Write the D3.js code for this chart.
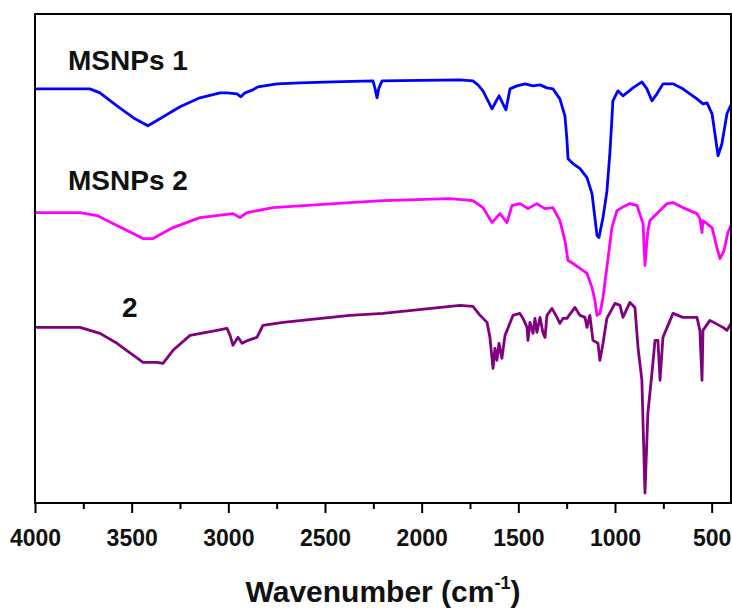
<!DOCTYPE html>
<html>
<head>
<meta charset="utf-8">
<script src="https://cdn.jsdelivr.net/npm/d3@7"></script>
<style>
body { margin: 0; background: #fff; }
text { font-family: "Liberation Sans", Arial, sans-serif; font-weight: bold; }
</style>
</head>
<body>
<script>
// FTIR spectra, wavenumber (cm-1) vs transmittance (a.u., offset)
var msnp1 = [[4000,415],[3716,415],[3664,411],[3576,398],[3483,385],[3416,378],[3354,385],[3250,397],[3147,406],[3043,411],[3007,411],[2955,410],[2935,407],[2914,411],[2873,414],[2847,417],[2748,420],[2629,421],[2459,422],[2252,423],[2242,416],[2231,406],[2221,416],[2205,423],[1802,424],[1735,423],[1709,419],[1683,413],[1636,395],[1600,408],[1564,394],[1543,415],[1507,418],[1466,420],[1424,418],[1388,419],[1352,416],[1321,415],[1285,405],[1259,388],[1249,365],[1243,345],[1217,340],[1181,335],[1145,326],[1119,310],[1104,286],[1093,268],[1083,266],[1062,286],[1042,312],[1026,352],[1016,385],[1011,403],[985,413],[959,408],[907,416],[861,422],[835,415],[809,403],[783,410],[752,420],[700,420],[649,415],[576,405],[545,400],[524,401],[498,390],[483,370],[467,348],[447,360],[421,390],[400,399]];

var msnp2 = [[4000,291],[3767,291],[3679,288],[3576,278],[3441,265],[3390,265],[3286,276],[3147,286],[2976,290],[2940,286],[2904,291],[2769,296],[2371,301],[2200,303],[1854,305],[1735,303],[1683,296],[1636,281],[1595,290],[1559,281],[1533,298],[1492,300],[1450,295],[1404,300],[1388,298],[1362,295],[1321,296],[1285,283],[1259,263],[1243,243],[1217,240],[1181,235],[1145,230],[1119,216],[1104,203],[1093,188],[1078,190],[1062,206],[1042,236],[1016,276],[990,293],[964,296],[923,300],[886,298],[855,280],[845,238],[830,273],[819,283],[783,290],[731,300],[700,301],[649,296],[576,290],[561,285],[550,271],[545,283],[498,276],[473,256],[457,245],[436,253],[416,271],[400,278]];

var cmpd2 = [[4000,176],[3767,176],[3664,170],[3576,160],[3441,141],[3369,141],[3338,140],[3286,153],[3198,168],[3059,173],[3007,175],[2991,168],[2976,158],[2950,166],[2929,160],[2898,163],[2852,166],[2821,178],[2717,181],[2371,188],[2200,190],[1802,198],[1735,197],[1698,188],[1662,181],[1647,166],[1631,135],[1621,155],[1611,143],[1600,160],[1585,145],[1569,168],[1554,175],[1528,188],[1492,190],[1476,185],[1455,176],[1450,163],[1440,181],[1424,170],[1414,185],[1404,171],[1388,186],[1373,171],[1362,166],[1352,188],[1326,195],[1300,186],[1285,180],[1269,185],[1249,185],[1207,196],[1181,188],[1155,186],[1145,176],[1130,188],[1114,163],[1088,160],[1078,143],[1062,160],[1042,185],[1000,200],[974,198],[959,186],[923,201],[897,196],[881,156],[861,123],[845,10],[830,90],[809,130],[793,163],[778,163],[767,123],[752,166],[726,178],[700,190],[649,186],[576,186],[561,173],[550,123],[545,173],[509,183],[442,176],[421,173],[400,180]];

var seriesNames = ["MSNPs 1", "MSNPs 2", "2"];
var seriesColors = ["#0000ff", "#ff00ff", "#800080"];
var majorTicks = [4000, 3500, 3000, 2500, 2000, 1500, 1000, 500];
var minorTicks = [3750, 3250, 2750, 2250, 1750, 1250, 750];

var width = 732, height = 608;
var plotLeft = 35, plotRight = 731, plotTop = 14, plotBottom = 503;

var svg = d3.select("body").append("svg")
  .attr("width", width)
  .attr("height", height);

var x = d3.scaleLinear().domain([4000, 400]).range([plotLeft, plotRight]);
var y = d3.scaleLinear().domain([0, 490]).range([plotBottom, plotTop]);

svg.append("clipPath").attr("id", "clip")
  .append("rect")
  .attr("x", plotLeft).attr("y", plotTop)
  .attr("width", plotRight - plotLeft).attr("height", plotBottom - plotTop);

var line = d3.line()
  .x(function(d) { return x(d[0]); })
  .y(function(d) { return y(d[1]); });

var data = [msnp1, msnp2, cmpd2];
svg.append("g").attr("clip-path", "url(#clip)")
  .selectAll("path")
  .data(data)
  .enter().append("path")
  .attr("d", line)
  .attr("fill", "none")
  .attr("stroke", function(d, i) { return seriesColors[i]; })
  .attr("stroke-width", 2.8)
  .attr("stroke-linejoin", "round");

// frame
svg.append("rect")
  .attr("x", plotLeft).attr("y", plotTop)
  .attr("width", plotRight - plotLeft).attr("height", plotBottom - plotTop)
  .attr("fill", "none")
  .attr("stroke", "#000")
  .attr("stroke-width", 2);

var xAxis = svg.append("g")
  .attr("transform", "translate(0," + plotBottom + ")")
  .call(d3.axisBottom(x).tickValues(majorTicks).tickSize(10).tickPadding(17).tickFormat(d3.format("d")));
xAxis.select(".domain").remove();
xAxis.selectAll("line").attr("stroke-width", 2);
xAxis.selectAll("text")
  .attr("font-size", 23)
  .attr("font-family", "Liberation Sans, Arial, sans-serif")
  .attr("font-weight", "bold")
  .attr("fill", "#111");

var minor = svg.append("g")
  .attr("transform", "translate(0," + plotBottom + ")")
  .call(d3.axisBottom(x).tickValues(minorTicks).tickSize(6).tickFormat(""));
minor.select(".domain").remove();
minor.selectAll("line").attr("stroke-width", 2);

var title = svg.append("text")
  .attr("x", 383).attr("y", 602)
  .attr("text-anchor", "middle")
  .attr("font-size", 30)
  .attr("fill", "#111");
title.append("tspan").text("Wavenumber (cm");
title.append("tspan").attr("font-size", 18).attr("dy", -13).text("-1");
title.append("tspan").attr("dy", 13).text(")");

// series labels
var labelPos = [[68, 70], [68, 190], [122, 317]];
svg.selectAll(".lab")
  .data(seriesNames)
  .enter().append("text")
  .attr("class", "lab")
  .attr("x", function(d, i) { return labelPos[i][0]; })
  .attr("y", function(d, i) { return labelPos[i][1]; })
  .attr("font-size", 28)
  .attr("fill", "#111")
  .text(function(d) { return d; });
</script>
</body>
</html>
